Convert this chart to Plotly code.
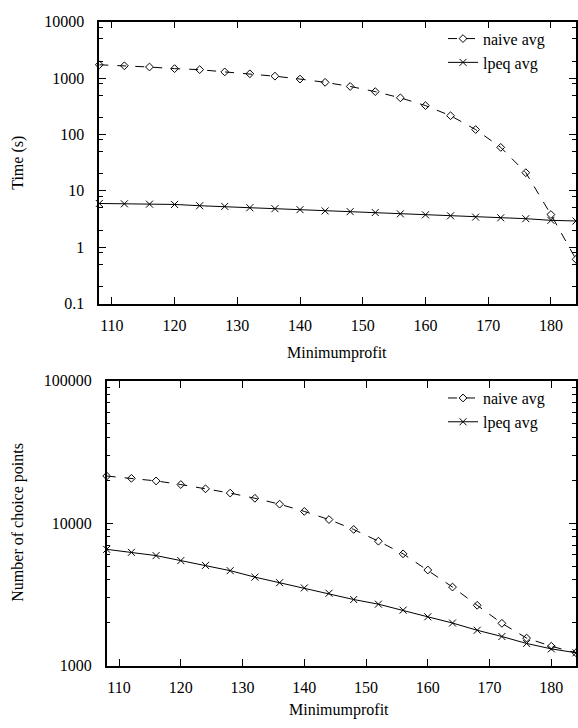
import plotly.graph_objects as go

# ---------------- data ----------------
minimum_profit = [108, 112, 116, 120, 124, 128, 132, 136, 140, 144,
                  148, 152, 156, 160, 164, 168, 172, 176, 180, 184]

time_naive_avg = [1720, 1650, 1570, 1470, 1410, 1285, 1190, 1080, 960, 840,
                  710, 575, 446, 325, 215, 122, 59, 21, 3.8, 0.61]
time_lpeq_avg = [5.97, 5.89, 5.81, 5.74, 5.45, 5.30, 5.02, 4.83, 4.64, 4.40,
                 4.28, 4.12, 3.91, 3.76, 3.61, 3.42, 3.33, 3.21, 3.00, 2.92]

cp_naive_avg = [21430, 20650, 19810, 18680, 17430, 16270, 14960, 13600, 12100, 10600,
                9040, 7470, 6090, 4690, 3560, 2650, 1980, 1560, 1367, 1230]
cp_lpeq_avg = [6550, 6240, 5920, 5460, 5050, 4640, 4180, 3820, 3510, 3220,
               2910, 2700, 2450, 2200, 1990, 1770, 1600, 1430, 1310, 1230]

x_tickvals = [110, 120, 130, 140, 150, 160, 170, 180]
time_tickvals = [0.1, 1, 10, 100, 1000, 10000]
time_ticktext = ["0.1", "1", "10", "100", "1000", "10000"]
time_minor = [m * d for d in [0.1, 1, 10, 100, 1000] for m in (2, 5, 8)]
cp_tickvals = [1000, 10000, 100000]
cp_ticktext = ["1000", "10000", "100000"]
cp_minor = [m * d for d in [1000, 10000] for m in range(2, 10)]

FONT = "Liberation Serif, Times New Roman, serif"
FS = 16

fig = go.Figure()

naive_style = dict(mode="lines+markers", line=dict(color="black", width=1, dash="dash"),
                   marker=dict(symbol="diamond-open", size=6, color="black", line=dict(width=1)),
                   cliponaxis=False)
lpeq_style = dict(mode="lines+markers", line=dict(color="black", width=1),
                  marker=dict(symbol="x-thin-open", size=7, color="black", line=dict(width=1)),
                  cliponaxis=False)

fig.add_trace(go.Scatter(x=minimum_profit, y=time_naive_avg, name="naive avg",
                         xaxis="x", yaxis="y", legend="legend", **naive_style))
fig.add_trace(go.Scatter(x=minimum_profit, y=time_lpeq_avg, name="lpeq avg",
                         xaxis="x", yaxis="y", legend="legend", **lpeq_style))
fig.add_trace(go.Scatter(x=minimum_profit, y=cp_naive_avg, name="naive avg",
                         xaxis="x2", yaxis="y2", legend="legend2", **naive_style))
fig.add_trace(go.Scatter(x=minimum_profit, y=cp_lpeq_avg, name="lpeq avg",
                         xaxis="x2", yaxis="y2", legend="legend2", **lpeq_style))

W, H = 578, 728


def px(v):
    return v / W


def py(v):
    return (H - v) / H


common_axis = dict(showline=True, linecolor="black", linewidth=1.5, mirror="ticks",
                   ticks="inside", ticklen=7, tickwidth=1, tickcolor="black",
                   showgrid=False, zeroline=False,
                   tickfont=dict(family=FONT, size=FS, color="black"))

title_font = dict(family=FONT, size=FS, color="black")

fig.update_layout(
    width=W, height=H, autosize=False,
    margin=dict(l=0, r=0, t=0, b=0),
    paper_bgcolor="white", plot_bgcolor="white",
    font=dict(family=FONT, size=FS, color="black"),
    xaxis=dict(domain=[px(99.3), px(576)], anchor="y", range=[108, 184],
               tickvals=x_tickvals, ticklabelstandoff=6, **common_axis),
    yaxis=dict(domain=[py(302.7), py(14)], anchor="x", type="log", range=[-1, 4],
               tickvals=time_tickvals, ticktext=time_ticktext, ticklabelstandoff=10,
               minor=dict(tickvals=time_minor, ticks="inside", ticklen=4, tickcolor="black"),
               **common_axis),
    xaxis2=dict(domain=[px(106.7), px(576)], anchor="y2", range=[108, 184],
                tickvals=x_tickvals, ticklabelstandoff=6, **common_axis),
    yaxis2=dict(domain=[py(673.3), py(381.7)], anchor="x2", type="log", range=[3, 5],
                tickvals=cp_tickvals, ticktext=cp_ticktext, ticklabelstandoff=10,
                minor=dict(tickvals=cp_minor, ticks="inside", ticklen=4, tickcolor="black"),
                **common_axis),
    legend=dict(x=px(443), y=py(14), xanchor="left", yanchor="top",
                bgcolor="rgba(0,0,0,0)", font=dict(family=FONT, size=FS),
                tracegroupgap=0, itemwidth=30),
    legend2=dict(x=px(443), y=py(382), xanchor="left", yanchor="top",
                 bgcolor="rgba(0,0,0,0)", font=dict(family=FONT, size=FS),
                 tracegroupgap=0, itemwidth=30),
    annotations=[
        dict(text="Time (s)", x=px(18), y=py(158.5), xref="paper", yref="paper",
             xanchor="center", yanchor="middle",
             textangle=-90, showarrow=False, font=title_font),
        dict(text="Number of choice points", x=px(18), y=py(527), xref="paper", yref="paper",
             xanchor="center", yanchor="middle",
             textangle=-90, showarrow=False, font=title_font),
        dict(text="Minimumprofit", x=px(337), y=py(353), xref="paper", yref="paper",
             xanchor="center", yanchor="middle", showarrow=False, font=title_font),
        dict(text="Minimumprofit", x=px(339), y=py(719), xref="paper", yref="paper",
             xanchor="center", yanchor="middle", showarrow=False, font=title_font),
    ],
)

fig.write_html("out.html")
